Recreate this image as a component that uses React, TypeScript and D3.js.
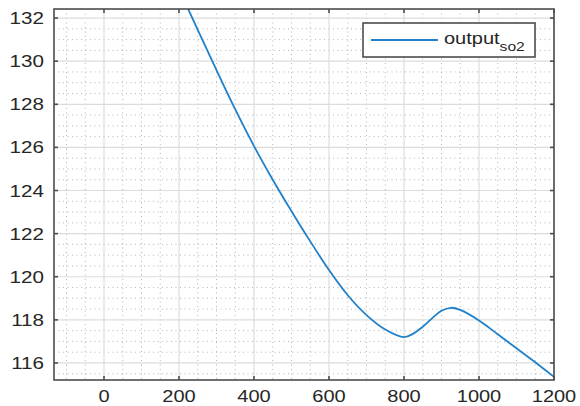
import React from 'react';
import * as d3 from 'd3';

// sampled from the curve
const xValues = [200, 250, 300, 350, 400, 450, 500, 550, 600, 650, 700, 750, 800, 825, 850, 900, 925, 950, 1000, 1050, 1100, 1150, 1200];
const yValues = [133.35, 131.45, 129.58, 127.76, 126.06, 124.5, 123.04, 121.64, 120.31, 119.14, 118.22, 117.55, 117.2, 117.36, 117.68, 118.42, 118.56, 118.46, 117.97, 117.33, 116.68, 116.03, 115.36];

const xTicks = [0, 200, 400, 600, 800, 1000, 1200];
const yTicks = [116, 118, 120, 122, 124, 126, 128, 130, 132];
const seriesName = 'output';
const seriesSub = 'so2';

const W = 580;
const H = 406;
const margin = { left: 54, right: 26, top: 9, bottom: 26 };
const SX = 1.25; // picture is stretched horizontally

const App: React.FC = () => {
  const x = d3.scaleLinear().domain([-133.33, 1200]).range([margin.left, W - margin.right]);
  const y = d3.scaleLinear().domain([115.21, 132.42]).range([H - margin.bottom, margin.top]);
  const [x0, x1] = x.range();
  const [y0, y1] = y.range(); // y0 bottom, y1 top

  const minorX = d3.range(-100, 1201, 50).filter(v => v % 200 !== 0);
  const minorY = d3.range(115.5, 132.5, 0.5).filter(v => v % 2 !== 0);

  const pts: [number, number][] = xValues.map((v, i) => [x(v), y(yValues[i])]);
  const line = d3.line<[number, number]>().x(d => d[0]).y(d => d[1]).curve(d3.curveCatmullRom.alpha(0.5));

  const axisColor = '#4d4d4d';
  const font = '"Liberation Sans", Arial, sans-serif';

  return (
    <svg width={W} height={H} style={{ position: 'absolute', left: 0, top: 0, background: '#fff' }}>
      <defs>
        <clipPath id="plot">
          <rect x={x0} y={y1} width={x1 - x0} height={y0 - y1} />
        </clipPath>
      </defs>
      <rect x={x0} y={y1} width={x1 - x0} height={y0 - y1} fill="#fff" />

      {/* minor grid */}
      {minorX.map(v => (
        <line key={'mx' + v} x1={x(v)} x2={x(v)} y1={y1} y2={y0} stroke="#b5b5b5" strokeWidth={1} strokeDasharray="1,3.5" />
      ))}
      {minorY.map(v => (
        <line key={'my' + v} x1={x0} x2={x1} y1={y(v)} y2={y(v)} stroke="#b5b5b5" strokeWidth={1} strokeDasharray="1,3.5" />
      ))}

      {/* major grid */}
      {xTicks.map(v => (
        <line key={'gx' + v} x1={x(v)} x2={x(v)} y1={y1} y2={y0} stroke="#dcdcdc" strokeWidth={1.2} />
      ))}
      {yTicks.map(v => (
        <line key={'gy' + v} x1={x0} x2={x1} y1={y(v)} y2={y(v)} stroke="#dcdcdc" strokeWidth={1.2} />
      ))}

      <path d={line(pts) ?? ''} fill="none" stroke="#1f80cb" strokeWidth={1.8} clipPath="url(#plot)" />

      {/* box + ticks */}
      <rect x={x0} y={y1} width={x1 - x0} height={y0 - y1} fill="none" stroke={axisColor} strokeWidth={1.6} />
      {xTicks.map(v => (
        <g key={'tx' + v}>
          <line x1={x(v)} x2={x(v)} y1={y0} y2={y0 - 4} stroke={axisColor} strokeWidth={1.6} />
          <line x1={x(v)} x2={x(v)} y1={y1} y2={y1 + 4} stroke={axisColor} strokeWidth={1.6} />
          <text
            transform={`translate(${x(v)},${y0 + 22}) scale(${SX},1)`}
            textAnchor="middle"
            fontFamily={font}
            fontSize={16}
            fill="#262626"
          >
            {v}
          </text>
        </g>
      ))}
      {yTicks.map(v => (
        <g key={'ty' + v}>
          <line x1={x0} x2={x0 + 4} y1={y(v)} y2={y(v)} stroke={axisColor} strokeWidth={1.6} />
          <line x1={x1} x2={x1 - 4} y1={y(v)} y2={y(v)} stroke={axisColor} strokeWidth={1.6} />
          <text
            transform={`translate(${x0 - 10},${y(v) + 6}) scale(${SX},1)`}
            textAnchor="end"
            fontFamily={font}
            fontSize={16.5}
            fill="#262626"
          >
            {v}
          </text>
        </g>
      ))}

      {/* legend */}
      <rect x={363} y={23} width={172} height={34} fill="#fff" stroke={axisColor} strokeWidth={1.6} />
      <line x1={371} x2={438} y1={40} y2={40} stroke="#1f80cb" strokeWidth={1.8} />
      <text transform={`translate(444,44) scale(${SX},1)`} fontFamily={font} fontSize={16} fill="#262626">
        {seriesName}
        <tspan fontSize={12.5} dy={7}>{seriesSub}</tspan>
      </text>
    </svg>
  );
};

export default App;
